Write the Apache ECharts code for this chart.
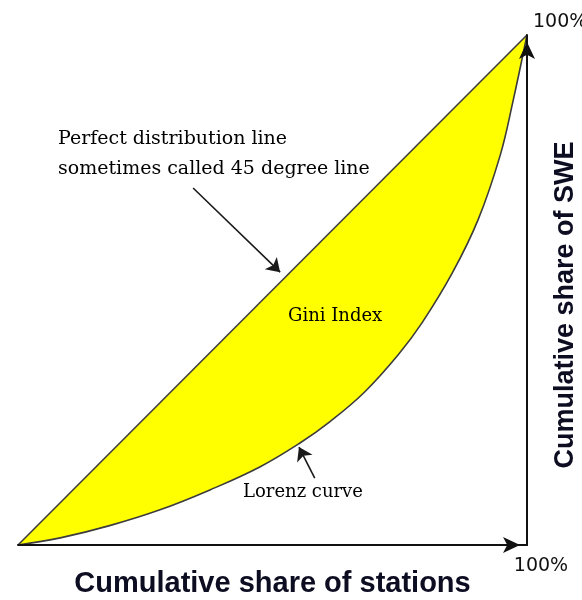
<!DOCTYPE html>
<html>
<head>
<meta charset="utf-8">
<script src="https://cdn.jsdelivr.net/npm/echarts@6/dist/echarts.min.js"></script>
<style>
html,body{margin:0;padding:0;background:#ffffff;}
#c{width:582px;height:600px;}
</style>
</head>
<body>
<div id="c"></div>
<script>
// Data (percent of cumulative share)
var equalityX = [0, 100];
var equalityY = [0, 100];
var lorenzX = [0, 8.3, 18, 27.9, 37.7, 47.5, 55.4, 61.3, 68, 74.7, 79.4, 85.3, 90.4, 94.7, 97.2, 100];
var lorenzY = [0, 1.4, 3.8, 6.9, 10.8, 15.3, 20.0, 24.2, 29.9, 37.3, 43.6, 53.3, 63.8, 76.3, 86.8, 100];
var axisTickLabels = ['100%'];
var xTitle = 'Cumulative share of stations';
var yTitle = 'Cumulative share of SWE';
var arrowPerfect = [[34.4, 70.0], [51.5, 53.5]];
var arrowLorenz = [[58.3, 13.1], [55.2, 19.2]];

function pairs(xs, ys){ return xs.map(function(x,i){ return [x, ys[i]]; }); }

var chart = echarts.init(document.getElementById('c'), null, {renderer:'canvas'});
var option = {
  backgroundColor: '#ffffff',
  animation: false,
  grid: {left: 18, right: 55, top: 35, bottom: 55, outerBoundsMode: 'none', containLabel: false},
  xAxis: {
    type: 'value', min: 0, max: 100, z: 5,
    axisLine: {show: true, onZero: false, lineStyle: {color: '#111', width: 2}, symbol: ['none','arrow'], symbolSize: [12, 17], symbolOffset: [0, -7]},
    axisTick: {show: false}, splitLine: {show: false},
    axisLabel: {
      showMaxLabel: true, showMinLabel: true,
      formatter: function(v){ return v === 100 ? axisTickLabels[0] : ''; },
      fontFamily: 'DejaVu Sans', fontSize: 19, color: '#111', margin: 12,
      align: 'center', padding: [0,0,0,28]
    },
    name: xTitle, nameLocation: 'middle', nameGap: 24, nameMoveOverlap: false,
    nameTextStyle: {fontFamily: 'Liberation Sans', fontWeight: 'bold', fontSize: 29, color: '#0d0d22'}
  },
  yAxis: {
    type: 'value', min: 0, max: 100, position: 'right', z: 5,
    axisLine: {show: true, onZero: false, lineStyle: {color: '#111', width: 2}, symbol: ['none','arrow'], symbolSize: [12, 17], symbolOffset: [0, -7]},
    axisTick: {show: false}, splitLine: {show: false},
    axisLabel: {
      showMaxLabel: true, showMinLabel: true,
      formatter: function(v){ return v === 100 ? axisTickLabels[0] : ''; },
      fontFamily: 'DejaVu Sans', fontSize: 19, color: '#111', margin: 6,
      verticalAlign: 'bottom', padding: [0,0,3,0]
    },
    name: yTitle, nameLocation: 'middle', nameGap: 25, nameRotate: 90, nameMoveOverlap: false,
    nameTextStyle: {fontFamily: 'Liberation Sans', fontWeight: 'bold', fontSize: 27, color: '#0d0d22', padding: [0,30,0,0]}
  },
  series: [
    {
      type: 'line', data: pairs(equalityX, equalityY), symbol: 'none',
      lineStyle: {color: '#3c3c3c', width: 1.6},
      areaStyle: {color: '#ffff00', opacity: 1}
    },
    {
      type: 'line', data: pairs(lorenzX, lorenzY), symbol: 'none', smooth: 0.4,
      lineStyle: {color: '#3c3c3c', width: 1.6},
      areaStyle: {color: '#ffffff', opacity: 1}
    },
    {
      type: 'lines', coordinateSystem: 'cartesian2d', z: 6,
      symbol: ['none','arrow'], symbolSize: 13,
      lineStyle: {color: '#1a1a1a', width: 1.6, opacity: 1},
      data: [{coords: arrowPerfect}, {coords: arrowLorenz}]
    }
  ],
  graphic: [
    {type: 'text', left: 58, top: 124, z: 10, style: {text: 'Perfect distribution line\nsometimes called 45 degree line', font: '19px "DejaVu Serif"', lineHeight: 30, fill: '#000'}},
    {type: 'text', left: 288, top: 307, z: 10, style: {text: 'Gini Index', font: '18px "DejaVu Serif"', fill: '#000'}},
    {type: 'text', left: 243, top: 483, z: 10, style: {text: 'Lorenz curve', font: '18px "DejaVu Serif"', fill: '#000'}}
  ]
};
chart.setOption(option);
</script>
</body>
</html>
